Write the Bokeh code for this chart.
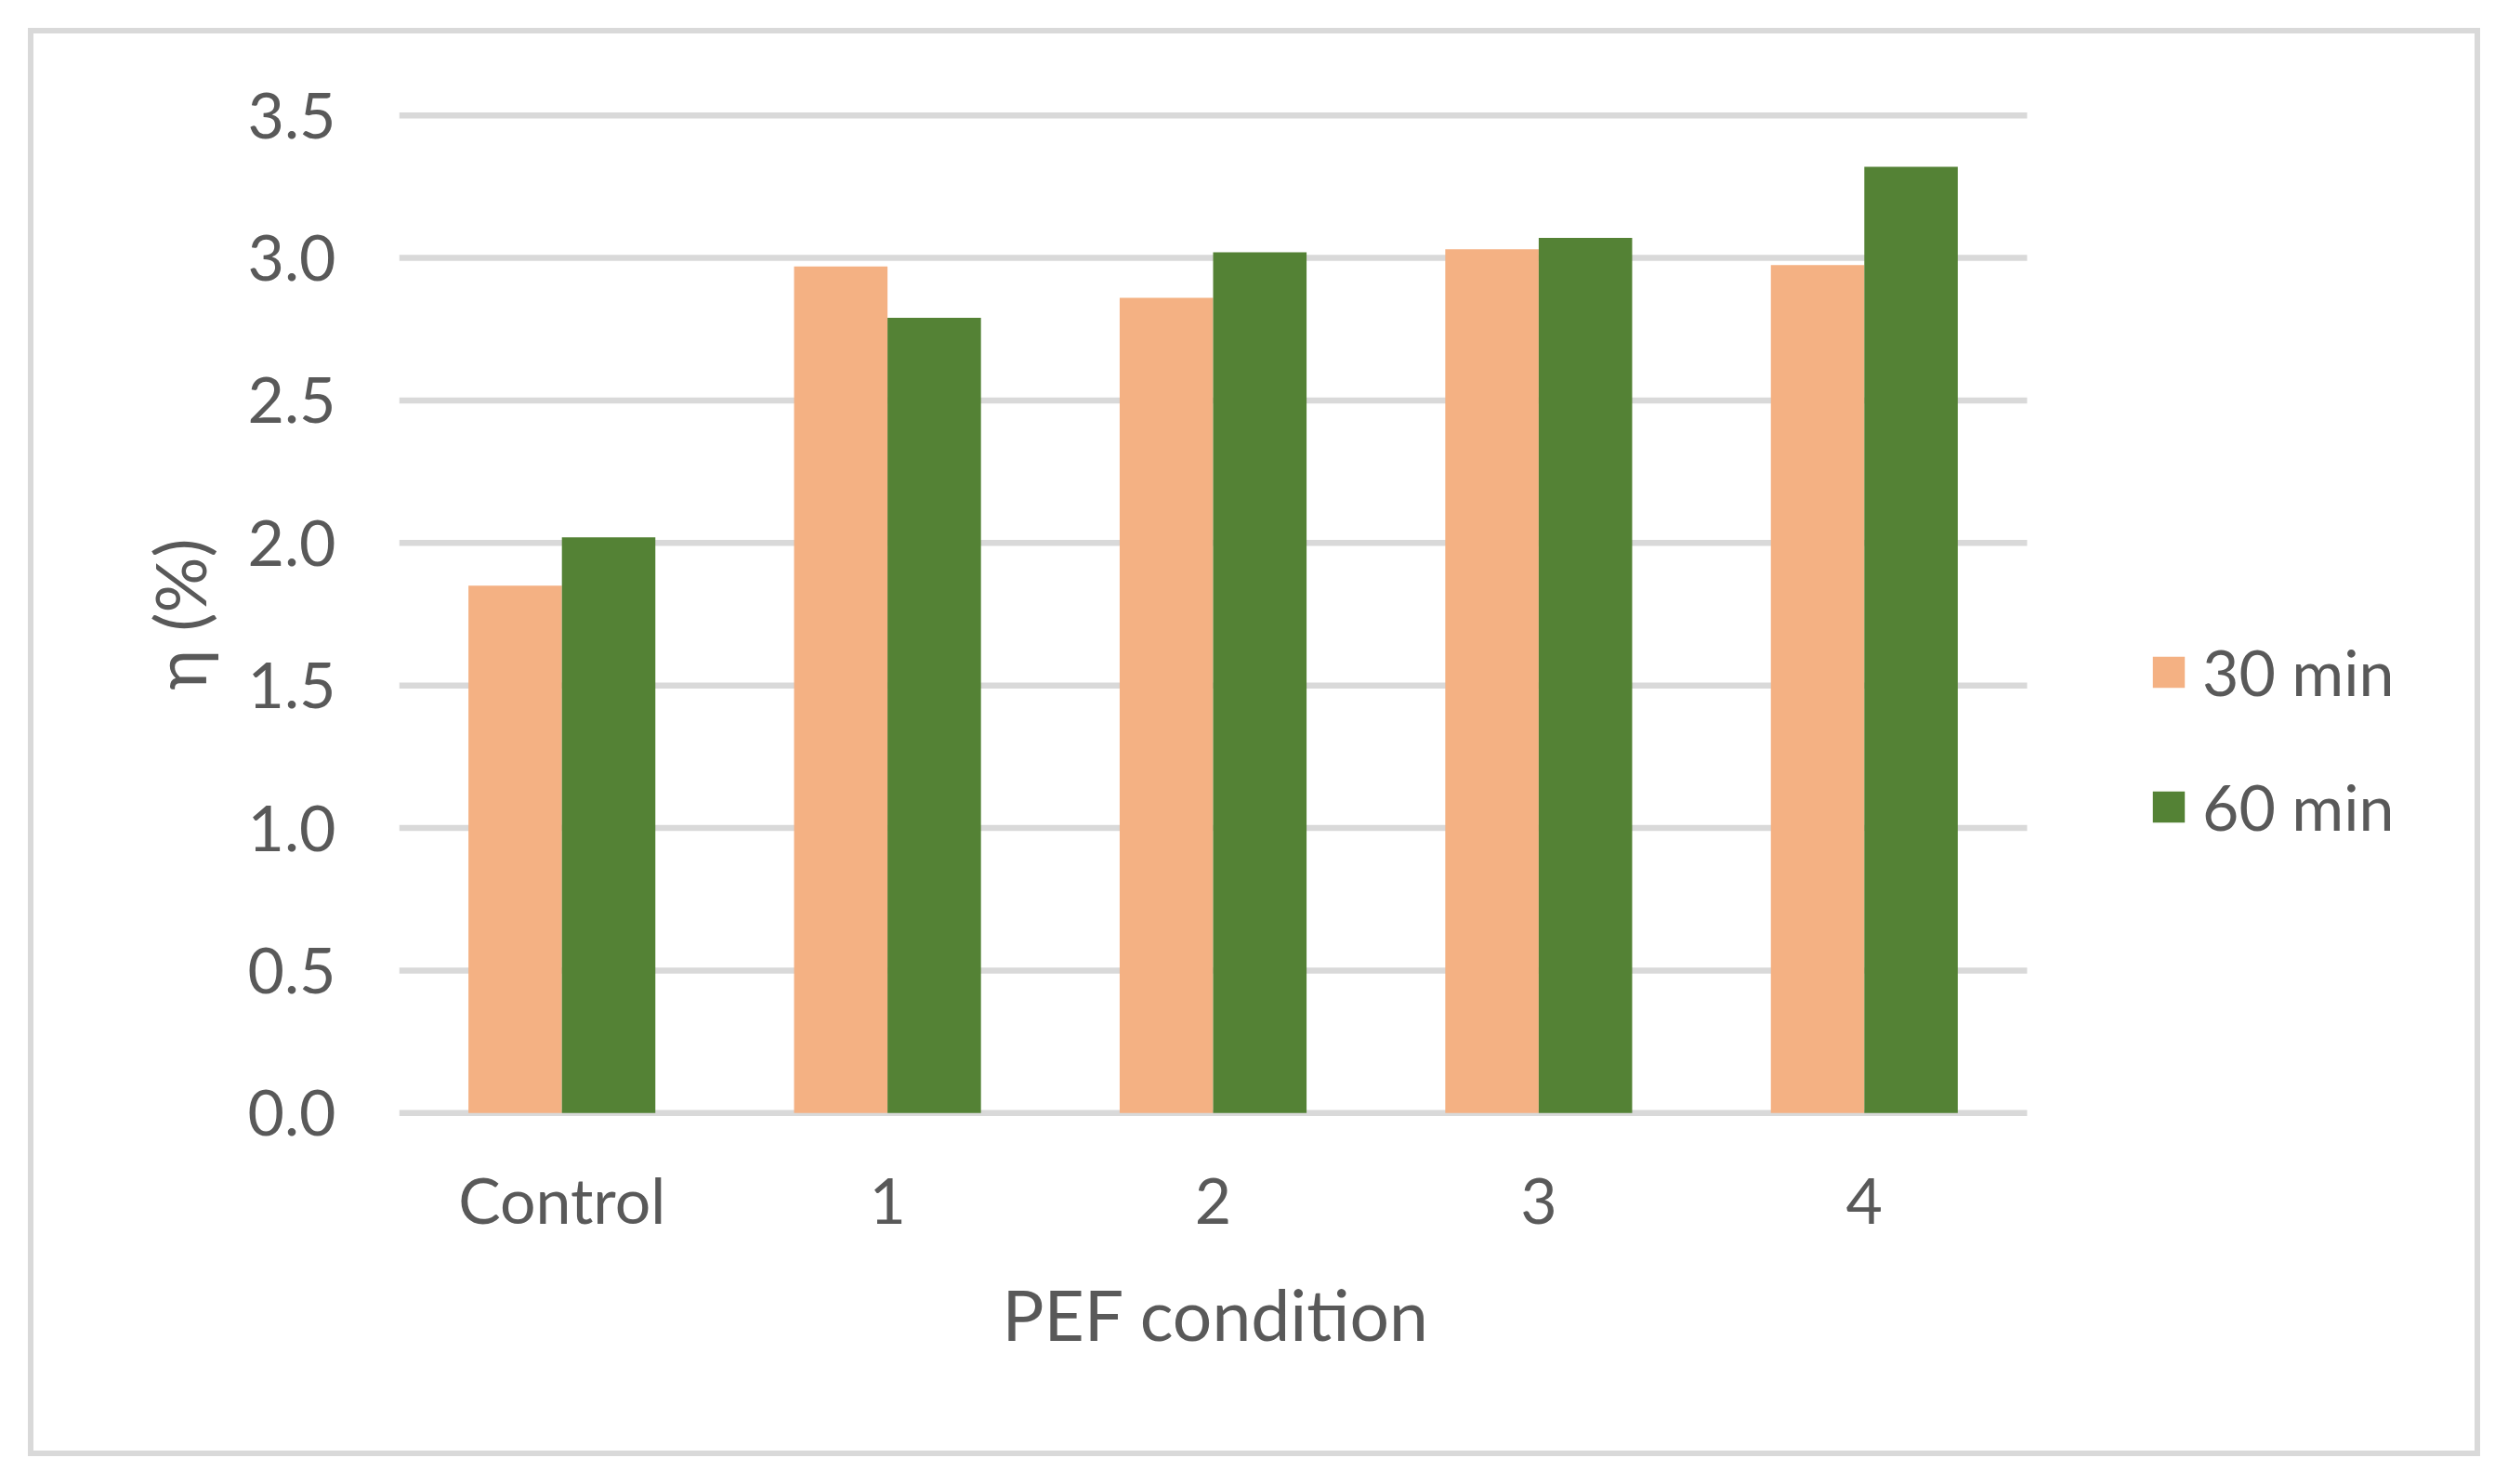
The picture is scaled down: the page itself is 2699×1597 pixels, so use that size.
from bokeh.plotting import figure
from bokeh.models import (ColumnDataSource, Range1d, FixedTicker, Title,
                          PrintfTickFormatter, Legend, LegendItem)
from bokeh.embed import file_html
from bokeh.resources import INLINE

# ---- data ----
categories = ["Control", "1", "2", "3", "4"]
series_names = ["30 min", "60 min"]
values_30 = [1.85, 2.97, 2.86, 3.03, 2.975]
values_60 = [2.02, 2.79, 3.02, 3.07, 3.32]
y_ticks = [0.0, 0.5, 1.0, 1.5, 2.0, 2.5, 3.0, 3.5]
x_title = "PEF condition"
y_title = "η (%)"

ORANGE = "#F4B183"
GREEN = "#548235"
GRID = "#D9D9D9"
TEXT = "#595959"
FONT = "Lato"

W, H = 2699, 1597
FL, FT, FB = 429, 120, 1201
PLOT_R = 2181          # right end of the category area
FRAME_R = 2640         # frame extended to hold the legend
n = len(categories)
x_max = n * (FRAME_R - FL) / (PLOT_R - FL)

centers = [i + 0.5 for i in range(n)]
bw = 0.287
src = ColumnDataSource(dict(x30=[c - bw / 2 for c in centers],
                            x60=[c + bw / 2 for c in centers],
                            v30=values_30, v60=values_60))

p = figure(width=W, height=H, x_range=Range1d(0, x_max),
           y_range=Range1d(-0.012, 3.512), output_backend="svg", toolbar_location=None,
           min_border_left=FL, min_border_right=W - FRAME_R, min_border_top=FT,
           min_border_bottom=H - FB)
p.outline_line_color = None
p.background_fill_color = None
p.border_fill_color = None
# outer chart border (light grey frame round the whole chart)
p.styles = {"outline": "6px solid #D9D9D9", "outline-offset": "-36px",
            "background-color": "white"}

# horizontal grid lines across the category area only
p.xgrid.visible = False
p.ygrid.visible = False
p.segment(x0=[0] * len(y_ticks), x1=[n] * len(y_ticks), y0=y_ticks, y1=y_ticks,
          line_color=GRID, line_width=6.5, level="underlay")

r30 = p.vbar(x="x30", top="v30", width=bw, bottom=0, source=src,
             fill_color=ORANGE, line_color=None)
r60 = p.vbar(x="x60", top="v60", width=bw, bottom=0, source=src,
             fill_color=GREEN, line_color=None)

# y axis
ya = p.yaxis[0]
ya.ticker = FixedTicker(ticks=y_ticks)
ya.formatter = PrintfTickFormatter(format="%.1f")
ya.axis_line_color = None
ya.major_tick_line_color = None
ya.minor_tick_line_color = None
ya.major_tick_out = 0
ya.major_tick_in = 0
ya.major_label_standoff = 68
ya.major_label_text_font = FONT
ya.major_label_text_font_size = "68px"
ya.major_label_text_color = TEXT
ya.axis_label = y_title
ya.axis_label_text_font = FONT
ya.axis_label_text_font_size = "75px"
ya.axis_label_text_font_style = "normal"
ya.axis_label_text_color = TEXT
ya.axis_label_standoff = 26

# x axis (category labels at the group centres)
xa = p.xaxis[0]
xa.ticker = FixedTicker(ticks=centers)
xa.major_label_overrides = {c: lab for c, lab in zip(centers, categories)}
xa.axis_line_color = None
xa.major_tick_line_color = None
xa.minor_tick_line_color = None
xa.major_tick_out = 0
xa.major_tick_in = 0
xa.major_label_standoff = 48
xa.major_label_text_font = FONT
xa.major_label_text_font_size = "68px"
xa.major_label_text_color = TEXT

# x-axis title, centred under the category area (not the extended frame)
X_TITLE_W = 454
x_title_box = Title(text=x_title, align="left", vertical_align="top",
                    offset=(FL + PLOT_R) / 2 - X_TITLE_W / 2 - FL, standoff=70,
                    text_font=FONT, text_font_size="75px", text_font_style="normal",
                    text_color=TEXT)
p.add_layout(x_title_box, "below")

# legend (inside the extended frame, right of the bars)
legend = Legend(items=[LegendItem(label=series_names[0], renderers=[r30]),
                       LegendItem(label=series_names[1], renderers=[r60])],
                location=(2312 - FL, FB - 908), orientation="vertical",
                glyph_width=43, glyph_height=42, label_height=42, label_standoff=15,
                spacing=64, padding=0, margin=0, border_line_color=None,
                background_fill_alpha=0, label_text_font=FONT,
                label_text_font_size="68px", label_text_color=TEXT)
p.add_layout(legend, "center")

open("out.html", "w").write(file_html(p, INLINE))
